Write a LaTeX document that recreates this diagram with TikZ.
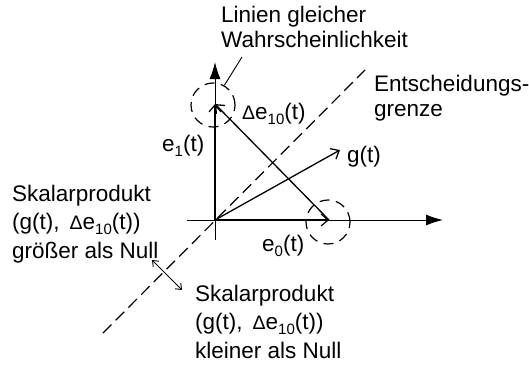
\documentclass[tikz,border=0pt]{standalone}
\usepackage{fontspec}
\setmainfont{Liberation Sans}
\usetikzlibrary{arrows.meta}
\newcommand\dsub[1]{\raisebox{-5pt}{\fontsize{15}{15}\selectfont #1}}
\newcommand\dDelta{{\fontsize{19.5}{19.5}\selectfont Δ}}
\begin{document}
\begin{tikzpicture}[x=1pt,y=-1pt,
  lbl/.style={anchor=base west,inner sep=0pt,align=left,font=\fontsize{22.5}{28.5}\selectfont},
  lbltight/.style={lbl,font=\fontsize{22.5}{24.5}\selectfont},
  axis/.style={line width=1pt,-{Latex[length=17pt,width=11pt]}},
  basevec/.style={line width=2.4pt,-{Straight Barb[length=7pt,width=12pt,line width=1.2pt]}},
  vec/.style={line width=1.3pt,-{Straight Barb[length=7pt,width=12pt]}},
  border/.style={line width=1.2pt,dash pattern=on 12pt off 6pt},
  ring/.style={circle,draw,line width=1.2pt,dash pattern=on 10pt off 6.5pt,minimum size=44pt,inner sep=0pt},
  thin/.style={line width=0.9pt}]
\useasboundingbox (0,0) rectangle (529,368);
\coordinate (O) at (215,220);
\coordinate (xl) at (187,220);
\coordinate (xr) at (443,220);
\coordinate (yb) at (215,240);
\coordinate (yt) at (215,62);
\coordinate (E0) at (329,220);
\coordinate (E1) at (215,104);
\coordinate (G) at (340,150);
\coordinate (d1) at (103,333);
\coordinate (d2) at (365,70);
\coordinate (a1) at (152,260);
\coordinate (a2) at (182,290);
% axes
\draw[axis] (xl) -- (xr);
\draw[axis] (yb) -- (yt);
% decision border
\draw[border] (d1) -- (d2);
% vectors
\draw[basevec] (O) -- (E0);
\draw[basevec] (O) -- (E1);
\draw[vec] (E0) -- (E1);
\draw[vec] (O) -- (G);
% circles
\node[ring] (c0) at (328,222) {};
\node[ring] (c1) at (213,105) {};
% double arrow
\draw[thin,{Straight Barb[length=5pt,width=8pt]}-{Straight Barb[length=5pt,width=8pt]}] (a1) -- (a2);
% labels (base anchor = baseline of last line)
\node[lbltight] (lin) at (221,47) {Linien gleicher\\Wahrscheinlichkeit};
\draw[thin] ([xshift=21pt,yshift=-10pt]lin.base west) -- (c1.60);
\node[lbltight] (ent) at (374,116) {Entscheidungs-\\grenze};
\node[lbl] (de) at (242,119) {\dDelta e\dsub{10}(t)};
\node[lbl] (e1) at (162,151) {e\dsub{1}(t)};
\node[lbl] (g) at (347,162) {g(t)};
\node[lbl] (e0) at (262,251) {e\dsub{0}(t)};
\node[lbl] (sp1) at (12,258) {Skalarprodukt\\(g(t),\ \,\dDelta e\dsub{10}(t))\\größer als Null};
\node[lbl] (sp2) at (195,358) {Skalarprodukt\\(g(t),\ \,\dDelta e\dsub{10}(t))\\kleiner als Null};
\end{tikzpicture}
\end{document}
